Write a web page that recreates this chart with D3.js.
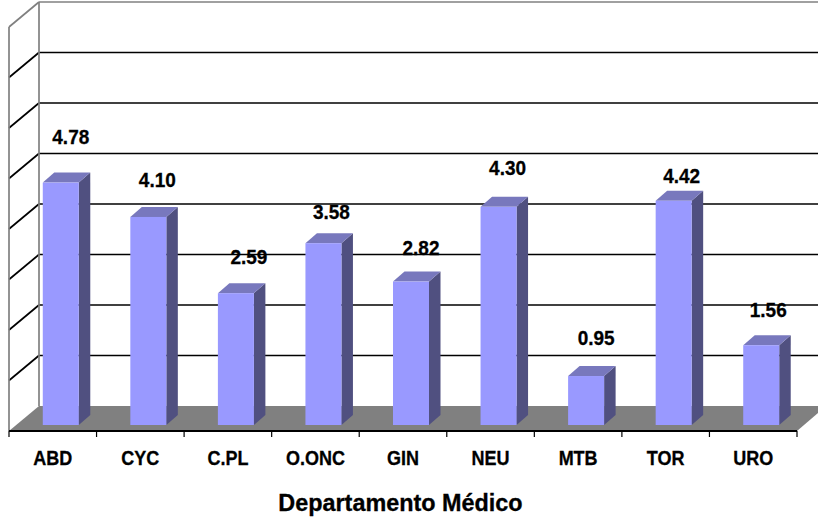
<!DOCTYPE html>
<html>
<head>
<meta charset="utf-8">
<script src="https://d3js.org/d3.v7.min.js"></script>
<style>
  html, body { margin: 0; padding: 0; background: #fff; overflow: hidden; }
  text { font-family: "Liberation Sans", Arial, sans-serif; font-weight: bold; fill: #000; stroke: #000; stroke-width: 0.3; }
</style>
</head>
<body>
<svg id="chart" width="818" height="521"></svg>
<script>
const departments = ["ABD", "CYC", "C.PL", "O.ONC", "GIN", "NEU", "MTB", "TOR", "URO"];
const values = [4.78, 4.10, 2.59, 3.58, 2.82, 4.30, 0.95, 4.42, 1.56];
const valueLabels = ["4.78", "4.10", "2.59", "3.58", "2.82", "4.30", "0.95", "4.42", "1.56"];
const gridTicks = [1, 2, 3, 4, 5, 6, 7, 8];
const xTitle = "Departamento Médico";

// labels were hand placed in the original, so each one has its own nudge from the bar top
const labelDx = [10, 9, 13, 8, 10, 9, 10, 8, 7];
const labelDy = [-39, -30, -29, -24, -27, -32, -31, -18, -28];

const depthX = 30, depthY = 25;         // full floor depth
const barDepthX = 11.5, barDepthY = 10; // depth of a bar
const barWidth = 36;
const floorFront = 431, floorBack = 406, left = 9, right = 797;
const barBase = 425;

const svg = d3.select("#chart");

const x = d3.scaleBand().domain(departments).range([left, right]);
const yBack = d3.scaleLinear().domain([0, 8]).range([floorBack, 2]);
// bars stand nearer the front than the back wall, so their scale is shifted down
const yBar = v => yBack(v) + 18;
const barH = v => barBase - yBar(v);

// left wall diagonals and back wall grid lines
const grid = svg.append("g");
grid.selectAll("line.wall")
  .data(gridTicks)
  .join("line")
  .attr("class", "wall")
  .attr("x1", left).attr("x2", left + depthX)
  .attr("y1", d => yBack(d) + depthY).attr("y2", d => yBack(d))
  .attr("stroke", d => d === 8 ? "#808080" : "#000")
  .attr("stroke-width", 1.7);
grid.selectAll("line.back")
  .data(gridTicks)
  .join("line")
  .attr("class", "back")
  .attr("x1", left + depthX).attr("x2", 818)
  .attr("y1", d => yBack(d)).attr("y2", d => yBack(d))
  .attr("stroke", d => d === 8 ? "#808080" : "#000")
  .attr("stroke-width", 1.7);

// wall edges
grid.append("line")
  .attr("x1", left).attr("x2", left).attr("y1", yBack(8) + depthY).attr("y2", floorFront)
  .attr("stroke", "#808080").attr("stroke-width", 1.7);
grid.append("line")
  .attr("x1", left + depthX).attr("x2", left + depthX).attr("y1", yBack(8)).attr("y2", floorBack)
  .attr("stroke", "#808080").attr("stroke-width", 1.7);

// floor
svg.append("path")
  .attr("d", `M${left},${floorFront}L${left + depthX},${floorBack}L818,${floorBack}L818,${floorFront - 18}L${right},${floorFront}Z`)
  .attr("fill", "#808080");

// bars
const bars = svg.append("g").selectAll("g")
  .data(departments.map((d, i) => ({ name: d, value: values[i], i })))
  .join("g")
  .attr("transform", d => `translate(${x(d.name) + x.bandwidth() / 2 - barWidth / 2 + 8},${barBase})`);

bars.append("path")
  .attr("fill", "#505080")
  .attr("d", d => `M${barWidth},0L${barWidth},${-barH(d.value)}l${barDepthX},${-barDepthY}L${barWidth + barDepthX},${-barDepthY}Z`);
bars.append("path")
  .attr("fill", "#7878bd")
  .attr("d", d => `M0,${-barH(d.value)}l${barDepthX},${-barDepthY}h${barWidth}l${-barDepthX},${barDepthY}Z`);
bars.append("rect")
  .attr("fill", "#9999ff")
  .attr("width", barWidth)
  .attr("y", d => -barH(d.value))
  .attr("height", d => barH(d.value));

// value labels, squeezed a little like the original's text
bars.append("text")
  .attr("text-anchor", "middle")
  .attr("font-size", 20)
  .attr("transform", d => `translate(${barWidth / 2 + labelDx[d.i]},${-barH(d.value) + labelDy[d.i]}) scale(0.95,1)`)
  .text(d => valueLabels[d.i]);

// front axis
const axis = svg.append("g");
axis.append("line")
  .attr("x1", left).attr("x2", right).attr("y1", floorFront).attr("y2", floorFront)
  .attr("stroke", "#000").attr("stroke-width", 2);
axis.selectAll("line.tick")
  .data(d3.range(departments.length + 1))
  .join("line")
  .attr("class", "tick")
  .attr("x1", i => left + i * x.step()).attr("x2", i => left + i * x.step())
  .attr("y1", floorFront).attr("y2", floorFront + 6)
  .attr("stroke", "#000").attr("stroke-width", 1.2);
axis.selectAll("text")
  .data(departments)
  .join("text")
  .attr("text-anchor", "middle")
  .attr("font-size", 20)
  .attr("transform", d => `translate(${x(d) + x.bandwidth() / 2},465) scale(0.9,1)`)
  .text(d => d);

svg.append("text")
  .attr("text-anchor", "middle")
  .attr("font-size", 23.4)
  .attr("x", 400.5)
  .attr("y", 511)
  .text(xTitle);
</script>
</body>
</html>
